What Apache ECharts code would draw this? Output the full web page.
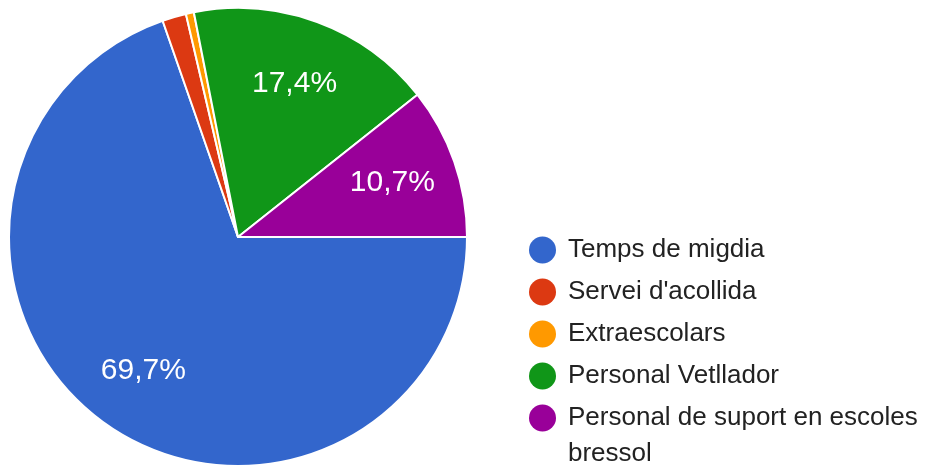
<!DOCTYPE html>
<html><head><meta charset="utf-8">
<script src="https://cdn.jsdelivr.net/npm/echarts@6/dist/echarts.min.js"></script>
<style>html,body{margin:0;padding:0;background:#fff}#c{width:927px;height:465px}</style>
</head><body><div id="c"></div>
<script>
const categories = ['Temps de migdia', "Servei d'acollida", 'Extraescolars', 'Personal Vetllador', 'Personal de suport en escoles bressol'];
const values = [124, 3, 1, 31, 19];
const colors = ['#3366CC', '#DC3912', '#FF9900', '#109618', '#990099'];

const FONT = '"Liberation Sans", Arial, sans-serif';
const data = categories.map((n, i) => ({ name: n, value: values[i], itemStyle: { color: colors[i] } }));

const chart = echarts.init(document.getElementById('c'));
chart.setOption({
  animation: false,
  backgroundColor: '#fff',
  legend: [{
    orient: 'vertical', left: 524, top: 227, icon: 'circle',
    itemWidth: 27, itemHeight: 27, itemGap: 6,
    itemStyle: { borderWidth: 0 },
    data: categories.slice(0, 4),
    textStyle: { fontFamily: FONT, fontSize: 26, color: '#222', lineHeight: 36, padding: [0, 0, 0, 7] }
  }, {
    orient: 'vertical', left: 524, top: 359, icon: 'circle',
    itemWidth: 27, itemHeight: 27,
    itemStyle: { borderWidth: 0 },
    data: categories.slice(4),
    formatter: n => '\n' + n,
    textStyle: { fontFamily: FONT, fontSize: 26, color: '#222', lineHeight: 36, padding: [0, 0, 0, 7], width: 360, overflow: 'break' }
  }],
  series: [{
    type: 'pie', center: [238, 237], radius: 229,
    startAngle: 0, clockwise: true,
    label: { show: false }, labelLine: { show: false },
    itemStyle: { borderColor: '#fff', borderWidth: 2 },
    emphasis: { disabled: true },
    data: data
  }, {
    type: 'pie', center: [238, 237], radius: [92, 229],
    startAngle: 0, clockwise: true, silent: true,
    itemStyle: { color: 'rgba(0,0,0,0)' },
    emphasis: { disabled: true },
    labelLine: { show: false },
    label: {
      show: true, position: 'inside', color: '#fff', fontFamily: FONT, fontSize: 30,
      formatter: p => p.percent > 5 ? p.percent.toFixed(1).replace('.', ',') + '%' : ''
    },
    data: categories.map((n, i) => ({ name: n, value: values[i] }))
  }]
});
</script></body></html>
